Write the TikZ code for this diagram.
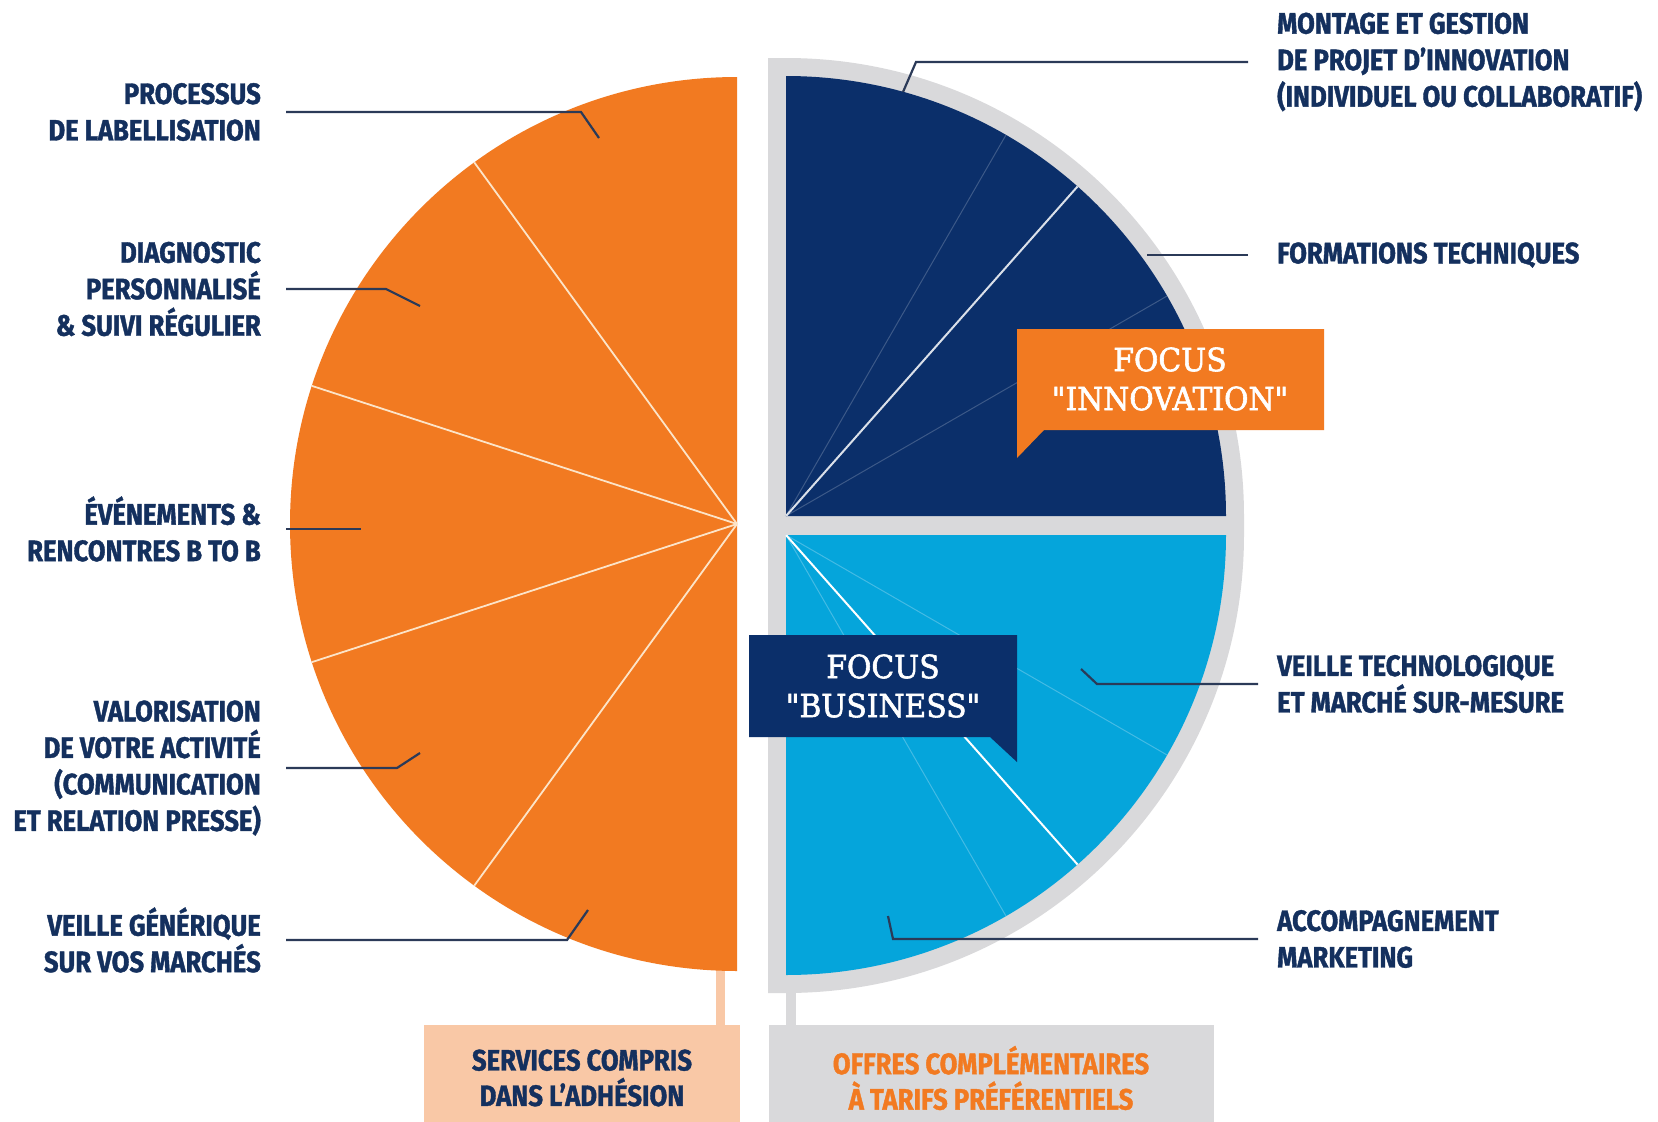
\documentclass[tikz,border=0pt]{standalone}
\usepackage{fontspec}
\newfontfamily\lblfont{Fira Sans}[FakeStretch=0.87, BoldFeatures={FakeBold=1.3}]
\newfontfamily\focfont{DejaVu Serif}[FakeStretch=0.93, FakeBold=1.8]
\definecolor{orng}{HTML}{F27A21}
\definecolor{dblue}{HTML}{0B2F6A}
\definecolor{lblue}{HTML}{05A5DB}
\definecolor{gry}{HTML}{D9D9DB}
\definecolor{peach}{HTML}{F9C8A6}
\definecolor{navytxt}{HTML}{14305E}
\definecolor{connc}{HTML}{2B3A58}
\definecolor{cream}{HTML}{FCE4C8}
\begin{document}
\begin{tikzpicture}[x=1pt,y=-1pt,
  lbl/.style={font={\lblfont\bfseries\fontsize{29.5}{36.5}\selectfont}, text=navytxt, inner sep=0pt},
  lleft/.style={lbl, align=right, anchor=east},
  lright/.style={lbl, align=left, anchor=west},
  conn/.style={draw=connc, line width=2.2pt},
  focustxt/.style={font={\focfont\fontsize{32}{39}\selectfont}, text=white, align=center, inner sep=0pt},
  boxtxt/.style={font={\lblfont\bfseries\fontsize{29.5}{35.5}\selectfont}, align=center, inner sep=0pt}]
\useasboundingbox[fill=white] (0,0) rectangle (1658,1122);

% connecting stems to bottom boxes
\fill[peach] (716,960) rectangle (725,1025);
\fill[gry] (786,980) rectangle (796,1025);

% orange half disc
\fill[orng] (737,524) -- (737,77) arc (-90:-270:447) -- cycle;
\foreach \a in {-126,-162,-198,-234}
  \draw[cream, line width=1.8pt, shift={(737,524)}] (0,0) -- (\a:447);

% gray background of right side
\fill[gry] (768,58) -- (786,58) arc (-90:0:458) -- (1244,535) arc (0:90:458) -- (768,993) -- cycle;

% dark blue quadrant
\fill[dblue] (786,516) -- (786,76) arc (-90:0:440) -- cycle;
\begin{scope}[shift={(786,516)}]
  \draw[color=dblue!80!white, line width=1pt] (0,0) -- (-30:440);
  \draw[color=dblue!80!white, line width=1pt] (0,0) -- (-60:440);
  \draw[color=white!85!dblue, line width=2pt] (0,0) -- (-48.5:440);
\end{scope}

% light blue quadrant
\fill[lblue] (786,535) -- (1226,535) arc (0:90:440) -- cycle;
\begin{scope}[shift={(786,535)}]
  \draw[color=lblue!75!white, line width=1pt] (0,0) -- (30:440);
  \draw[color=lblue!75!white, line width=1pt] (0,0) -- (60:440);
  \draw[color=white, line width=2pt] (0,0) -- (48.5:440);
\end{scope}

% focus callouts
\fill[orng] (1017,329) -- (1324,329) -- (1324,430) -- (1044,430) -- (1017,458) -- cycle;
\node[focustxt] (finno) at (1170,379) {FOCUS\\"INNOVATION"};
\fill[dblue] (749,635) -- (1017,635) -- (1017,762) -- (990,737) -- (749,737) -- cycle;
\node[focustxt] (fbus) at (883,686) {FOCUS\\"BUSINESS"};

% left labels
\node[lleft] (l1) at (261,112) {PROCESSUS\\DE LABELLISATION};
\node[lleft] (l2) at (261,289) {DIAGNOSTIC\\PERSONNALISÉ\\\& SUIVI RÉGULIER};
\node[lleft] (l3) at (261,529) {ÉVÉNEMENTS \&\\RENCONTRES B TO B};
\node[lleft] (l4) at (261,768) {VALORISATION\\DE VOTRE ACTIVITÉ\\(COMMUNICATION\\ET RELATION PRESSE)};
\node[lleft] (l5) at (261,940) {VEILLE GÉNÉRIQUE\\SUR VOS MARCHÉS};

\coordinate (e1) at (599,138);
\coordinate (e2) at (420,306);
\coordinate (e3) at (361,529);
\coordinate (e4) at (420,753);
\coordinate (e5) at (588,910);
\draw[conn] ([xshift=25pt]l1.east) -- (581,112) -- (e1);
\draw[conn] ([xshift=25pt]l2.east) -- (386,289) -- (e2);
\draw[conn] ([xshift=25pt]l3.east) -- (e3);
\draw[conn] ([xshift=25pt]l4.east) -- (397,768) -- (e4);
\draw[conn] ([xshift=25pt]l5.east) -- (567,940) -- (e5);

% right labels
\node[lright] (r1) at (1277,62) {MONTAGE ET GESTION\\DE PROJET D’INNOVATION\\(INDIVIDUEL OU COLLABORATIF)};
\node[lright] (r2) at (1277,255) {FORMATIONS TECHNIQUES};
\node[lright] (r3) at (1277,684) {VEILLE TECHNOLOGIQUE\\ET MARCHÉ SUR-MESURE};
\node[lright] (r4) at (1277,939) {ACCOMPAGNEMENT\\MARKETING};

\coordinate (f1) at (903,92);
\coordinate (f2) at (1147,255);
\coordinate (f3) at (1081,669);
\coordinate (f4) at (888,916);
\draw[conn] ([xshift=-29pt]r1.west) -- (916,62) -- (f1);
\draw[conn] ([xshift=-29pt]r2.west) -- (f2);
\draw[conn] ([xshift=-19pt]r3.west) -- (1097,684) -- (f3);
\draw[conn] ([xshift=-19pt]r4.west) -- (893,939) -- (f4);

% bottom boxes
\fill[peach] (424,1025) rectangle (740,1122);
\fill[gry] (769,1025) rectangle (1214,1122);
\node[boxtxt, text=navytxt] (b1) at (582,1078) {SERVICES COMPRIS\\DANS L’ADHÉSION};
\node[boxtxt, text=orng] (b2) at (991,1078) {OFFRES COMPLÉMENTAIRES\\À TARIFS PRÉFÉRENTIELS};
\end{tikzpicture}
\end{document}
